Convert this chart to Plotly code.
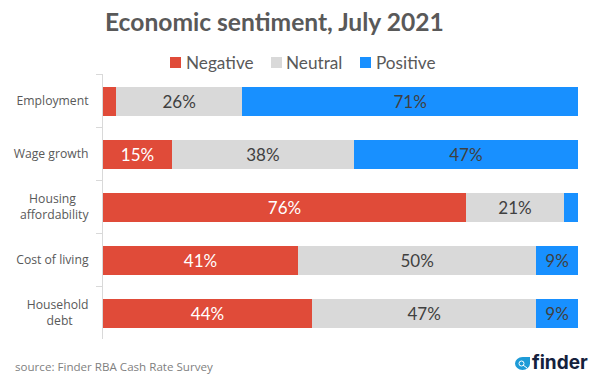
import plotly.graph_objects as go

NB = "\u00a0"
categories = ["Employment", "Wage growth", "Housing" + NB * 4 + "<br>affordability", "Cost of living", "Household<br>debt" + NB * 5]
negative = [2.74, 14.5, 76.4, 41.05, 44.0]
neutral = [26.56, 38.3, 20.65, 50.15, 47.2]
positive = [70.7, 47.2, 2.95, 8.8, 8.8]
neg_labels = ["", "15%", "76%", "41%", "44%"]
neu_labels = ["26%", "38%", "21%", "50%", "47%"]
pos_labels = ["71%", "47%", "", "9%", "9%"]
series_names = ["Negative", "Neutral", "Positive"]
series_colors = ["#E04B39", "#D9D9D9", "#1890FF"]
label_colors = ["#FFFFFF", "#404040", "#404040"]

W, H = 597, 379
L, R, T, B = 103, 19, 74, 40
PW, PH = W - L - R, H - T - B
def fx(px): return (px - L) / PW
def fy(py): return (H - B - py) / PH

FONT = "Open Sans"
LAB = "Lato"
fig = go.Figure()
for name, vals, labels, color, tcolor in zip(series_names, [negative, neutral, positive],
                                             [neg_labels, neu_labels, pos_labels], series_colors, label_colors):
    fig.add_trace(go.Bar(
        name=name, y=categories, x=vals, orientation="h", width=0.555, offset=-0.26,
        marker=dict(color=color, line_width=0),
        text=labels, textposition="inside", insidetextanchor="middle", constraintext="none",
        textfont=dict(family=LAB, size=17, color=tcolor), textangle=0, hoverinfo="skip",
    ))

LOGO = "#1E9BD7"
annotations = [
    dict(text="source: Finder RBA Cash Rate Survey", x=fx(13), y=fy(366), xref="paper", yref="paper",
         xanchor="left", yanchor="middle", showarrow=False, font=dict(family=FONT, size=11.6, color="#7F7F7F")),
    dict(text="<b>finder</b>", x=fx(530), y=fy(362), xref="paper", yref="paper", xanchor="left", yanchor="middle",
         showarrow=False, font=dict(family="Inter", size=19, color="#14213D")),
]
shapes = [
    dict(type="circle", xref="paper", yref="paper", x0=fx(515), x1=fx(530), y0=fy(370), y1=fy(357),
         fillcolor=LOGO, line_width=0),
    dict(type="rect", xref="paper", yref="paper", x0=fx(523), x1=fx(530), y0=fy(364), y1=fy(357),
         fillcolor=LOGO, line_width=0),
    dict(type="circle", xref="paper", yref="paper", x0=fx(519), x1=fx(524), y0=fy(366), y1=fy(361),
         fillcolor=LOGO, line=dict(color="white", width=1)),
    dict(type="line", xref="paper", yref="paper", x0=fx(523), x1=fx(527), y0=fy(365), y1=fy(368),
         line=dict(color="white", width=1)),
]
# legend row
for name, color, sw_x, tx_x in zip(series_names, series_colors, [170, 271, 360], [186, 286, 376]):
    shapes.append(dict(type="rect", xref="paper", yref="paper", x0=fx(sw_x), x1=fx(sw_x + 11), y0=fy(68), y1=fy(57),
                       fillcolor=color, line_width=0))
    annotations.append(dict(text=name, x=fx(tx_x - 2), y=fy(62), xref="paper", yref="paper", xanchor="left",
                            yanchor="middle", showarrow=False, font=dict(family=LAB, size=17.2, color="#595959")))

fig.update_layout(
    width=W, height=H, barmode="stack",
    paper_bgcolor="white", plot_bgcolor="white", showlegend=False,
    margin=dict(l=L, r=R, t=T, b=B, autoexpand=False),
    font=dict(family=FONT, color="#595959"),
    xaxis=dict(range=[0, 100], visible=False, fixedrange=True),
    yaxis=dict(autorange=False, range=[4.5, -0.5], type="category", categoryorder="array", categoryarray=categories,
               showline=True, linecolor="#D9D9D9", linewidth=1, ticks="outside", tickson="boundaries",
               tickcolor="#D9D9D9", ticklen=6, showgrid=False, tickfont=dict(family=FONT, size=12.2, color="#595959"),
               ticklabelstandoff=11, fixedrange=True),
    title=dict(text="<b>Economic sentiment, July 2021</b>", x=105 / W, xref="container", xanchor="left",
               y=1 - 22 / H, yref="container", yanchor="middle", font=dict(family=LAB, size=24.6, color="#595959")),
    annotations=annotations,
    shapes=shapes,
)
fig.write_html("out.html", config={"displayModeBar": False}, post_script="document.body.style.margin='0';")
